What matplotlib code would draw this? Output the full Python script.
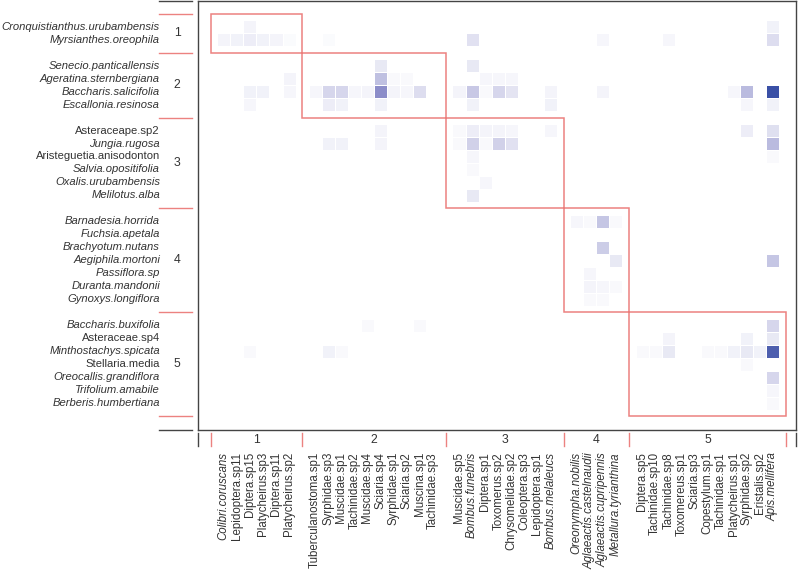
import numpy as np
import matplotlib
matplotlib.use("Agg")
import matplotlib.pyplot as plt
from matplotlib.colors import LinearSegmentedColormap
from matplotlib.patches import Rectangle

# ---------------- data ----------------
plants = [
    "Cronquistianthus.urubambensis", "Myrsianthes.oreophila",
    "Senecio.panticallensis", "Ageratina.sternbergiana", "Baccharis.salicifolia", "Escallonia.resinosa",
    "Asteraceape.sp2", "Jungia.rugosa", "Aristeguetia.anisodonton", "Salvia.opositifolia",
    "Oxalis.urubambensis", "Melilotus.alba",
    "Barnadesia.horrida", "Fuchsia.apetala", "Brachyotum.nutans", "Aegiphila.mortoni",
    "Passiflora.sp", "Duranta.mandonii", "Gynoxys.longiflora",
    "Baccharis.buxifolia", "Asteraceae.sp4", "Minthostachys.spicata", "Stellaria.media",
    "Oreocallis.grandiflora", "Trifolium.amabile", "Berberis.humbertiana",
]
plant_module_sizes = [2, 4, 6, 7, 7]
plant_upright = {"Asteraceape.sp2", "Aristeguetia.anisodonton", "Asteraceae.sp4", "Stellaria.media"}

pollinators = [
    "Colibri.coruscans", "Lepidoptera.sp11", "Diptera.sp15", "Platycheirus.sp3", "Diptera.sp11", "Platycheirus.sp2",
    "Tuberculanostoma.sp1", "Syrphidae.sp3", "Muscidae.sp1", "Tachinidae.sp2", "Muscidae.sp4", "Sciaria.sp4",
    "Syrphidae.sp1", "Sciaria.sp2", "Muscina.sp1", "Tachinidae.sp3",
    "Muscidae.sp5", "Bombus.funebris", "Diptera.sp1", "Toxomerus.sp2", "Chrysomelidae.sp2", "Coleoptera.sp3",
    "Lepidoptera.sp1", "Bombus.melaleucs",
    "Oreonympha.nobilis", "Aglaeactis.castelnaudii", "Aglaeactis.cupripennis", "Metallura.tyrianthina",
    "Diptera.sp5", "Tachinidae.sp10", "Tachinidae.sp8", "Toxomereus.sp1", "Sciaria.sp3", "Copestylum.sp1",
    "Tachinidae.sp1", "Platycheirus.sp1", "Syrphidae.sp2", "Eristalis.sp2", "Apis.mellifera",
]
poll_module_sizes = [6, 10, 8, 4, 11]
poll_italic = {"Colibri.coruscans", "Bombus.funebris", "Bombus.melaleucs", "Oreonympha.nobilis",
               "Aglaeactis.castelnaudii", "Aglaeactis.cupripennis", "Metallura.tyrianthina", "Apis.mellifera"}

# interaction strength (relative, 0-100)
interactions = [
    ("Cronquistianthus.urubambensis", "Diptera.sp15", 5),
    ("Cronquistianthus.urubambensis", "Apis.mellifera", 6),
    ("Myrsianthes.oreophila", "Colibri.coruscans", 5),
    ("Myrsianthes.oreophila", "Lepidoptera.sp11", 6),
    ("Myrsianthes.oreophila", "Diptera.sp15", 8),
    ("Myrsianthes.oreophila", "Platycheirus.sp3", 6),
    ("Myrsianthes.oreophila", "Diptera.sp11", 5),
    ("Myrsianthes.oreophila", "Platycheirus.sp2", 2),
    ("Myrsianthes.oreophila", "Syrphidae.sp3", 2),
    ("Myrsianthes.oreophila", "Bombus.funebris", 13),
    ("Myrsianthes.oreophila", "Aglaeactis.cupripennis", 4),
    ("Myrsianthes.oreophila", "Tachinidae.sp8", 4),
    ("Myrsianthes.oreophila", "Apis.mellifera", 15),
    ("Senecio.panticallensis", "Sciaria.sp4", 10),
    ("Senecio.panticallensis", "Bombus.funebris", 10),
    ("Ageratina.sternbergiana", "Platycheirus.sp2", 5),
    ("Ageratina.sternbergiana", "Sciaria.sp4", 28),
    ("Ageratina.sternbergiana", "Sciaria.sp2", 3),
    ("Ageratina.sternbergiana", "Syrphidae.sp1", 3),
    ("Ageratina.sternbergiana", "Diptera.sp1", 4),
    ("Ageratina.sternbergiana", "Toxomerus.sp2", 4),
    ("Ageratina.sternbergiana", "Chrysomelidae.sp2", 4),
    ("Baccharis.salicifolia", "Diptera.sp15", 6),
    ("Baccharis.salicifolia", "Platycheirus.sp3", 6),
    ("Baccharis.salicifolia", "Platycheirus.sp2", 4),
    ("Baccharis.salicifolia", "Tuberculanostoma.sp1", 4),
    ("Baccharis.salicifolia", "Syrphidae.sp3", 18),
    ("Baccharis.salicifolia", "Muscidae.sp1", 18),
    ("Baccharis.salicifolia", "Tachinidae.sp2", 4),
    ("Baccharis.salicifolia", "Muscidae.sp4", 5),
    ("Baccharis.salicifolia", "Sciaria.sp4", 50),
    ("Baccharis.salicifolia", "Syrphidae.sp1", 5),
    ("Baccharis.salicifolia", "Sciaria.sp2", 4),
    ("Baccharis.salicifolia", "Muscina.sp1", 15),
    ("Baccharis.salicifolia", "Muscidae.sp5", 5),
    ("Baccharis.salicifolia", "Bombus.funebris", 24),
    ("Baccharis.salicifolia", "Diptera.sp1", 3),
    ("Baccharis.salicifolia", "Toxomerus.sp2", 18),
    ("Baccharis.salicifolia", "Chrysomelidae.sp2", 12),
    ("Baccharis.salicifolia", "Bombus.melaleucs", 5),
    ("Baccharis.salicifolia", "Aglaeactis.cupripennis", 5),
    ("Baccharis.salicifolia", "Platycheirus.sp1", 4),
    ("Baccharis.salicifolia", "Syrphidae.sp2", 30),
    ("Baccharis.salicifolia", "Apis.mellifera", 100),
    ("Escallonia.resinosa", "Diptera.sp15", 4),
    ("Escallonia.resinosa", "Syrphidae.sp3", 8),
    ("Escallonia.resinosa", "Muscidae.sp1", 6),
    ("Escallonia.resinosa", "Sciaria.sp4", 6),
    ("Escallonia.resinosa", "Bombus.funebris", 6),
    ("Escallonia.resinosa", "Bombus.melaleucs", 6),
    ("Escallonia.resinosa", "Syrphidae.sp2", 4),
    ("Escallonia.resinosa", "Apis.mellifera", 6),
    ("Asteraceape.sp2", "Sciaria.sp4", 5),
    ("Asteraceape.sp2", "Muscidae.sp5", 3),
    ("Asteraceape.sp2", "Bombus.funebris", 8),
    ("Asteraceape.sp2", "Diptera.sp1", 5),
    ("Asteraceape.sp2", "Toxomerus.sp2", 5),
    ("Asteraceape.sp2", "Chrysomelidae.sp2", 4),
    ("Asteraceape.sp2", "Bombus.melaleucs", 4),
    ("Asteraceape.sp2", "Syrphidae.sp2", 8),
    ("Asteraceape.sp2", "Apis.mellifera", 14),
    ("Jungia.rugosa", "Syrphidae.sp3", 6),
    ("Jungia.rugosa", "Muscidae.sp1", 6),
    ("Jungia.rugosa", "Sciaria.sp4", 5),
    ("Jungia.rugosa", "Muscidae.sp5", 3),
    ("Jungia.rugosa", "Bombus.funebris", 20),
    ("Jungia.rugosa", "Diptera.sp1", 3),
    ("Jungia.rugosa", "Toxomerus.sp2", 20),
    ("Jungia.rugosa", "Chrysomelidae.sp2", 13),
    ("Jungia.rugosa", "Apis.mellifera", 30),
    ("Aristeguetia.anisodonton", "Bombus.funebris", 4),
    ("Aristeguetia.anisodonton", "Apis.mellifera", 3),
    ("Salvia.opositifolia", "Bombus.funebris", 3),
    ("Oxalis.urubambensis", "Diptera.sp1", 4),
    ("Melilotus.alba", "Bombus.funebris", 10),
    ("Barnadesia.horrida", "Oreonympha.nobilis", 4),
    ("Barnadesia.horrida", "Aglaeactis.castelnaudii", 3),
    ("Barnadesia.horrida", "Aglaeactis.cupripennis", 25),
    ("Barnadesia.horrida", "Metallura.tyrianthina", 3),
    ("Brachyotum.nutans", "Aglaeactis.cupripennis", 22),
    ("Aegiphila.mortoni", "Metallura.tyrianthina", 10),
    ("Aegiphila.mortoni", "Apis.mellifera", 25),
    ("Passiflora.sp", "Aglaeactis.castelnaudii", 4),
    ("Duranta.mandonii", "Aglaeactis.castelnaudii", 5),
    ("Duranta.mandonii", "Aglaeactis.cupripennis", 4),
    ("Duranta.mandonii", "Metallura.tyrianthina", 3),
    ("Gynoxys.longiflora", "Aglaeactis.castelnaudii", 3),
    ("Gynoxys.longiflora", "Aglaeactis.cupripennis", 3),
    ("Baccharis.buxifolia", "Muscidae.sp4", 3),
    ("Baccharis.buxifolia", "Muscina.sp1", 3),
    ("Baccharis.buxifolia", "Apis.mellifera", 18),
    ("Asteraceae.sp4", "Tachinidae.sp8", 5),
    ("Asteraceae.sp4", "Syrphidae.sp2", 6),
    ("Asteraceae.sp4", "Apis.mellifera", 10),
    ("Minthostachys.spicata", "Diptera.sp15", 3),
    ("Minthostachys.spicata", "Syrphidae.sp3", 6),
    ("Minthostachys.spicata", "Muscidae.sp1", 3),
    ("Minthostachys.spicata", "Diptera.sp5", 3),
    ("Minthostachys.spicata", "Tachinidae.sp10", 3),
    ("Minthostachys.spicata", "Tachinidae.sp8", 10),
    ("Minthostachys.spicata", "Copestylum.sp1", 3),
    ("Minthostachys.spicata", "Tachinidae.sp1", 3),
    ("Minthostachys.spicata", "Platycheirus.sp1", 6),
    ("Minthostachys.spicata", "Syrphidae.sp2", 10),
    ("Minthostachys.spicata", "Eristalis.sp2", 6),
    ("Minthostachys.spicata", "Apis.mellifera", 88),
    ("Stellaria.media", "Syrphidae.sp2", 3),
    ("Oreocallis.grandiflora", "Apis.mellifera", 18),
    ("Trifolium.amabile", "Apis.mellifera", 4),
    ("Berberis.humbertiana", "Apis.mellifera", 3),
]

# ---------------- layout helpers ----------------
def module_layout(sizes):
    starts, centers = [], []
    s = 0
    for n in sizes:
        starts.append(s)
        centers.extend([s + 1 + k for k in range(n)])
        s += n + 1
    starts.append(s)
    return starts, centers

row_starts, row_centers = module_layout(plant_module_sizes)
col_starts, col_centers = module_layout(poll_module_sizes)
n_row_units = row_starts[-1]
n_col_units = col_starts[-1]

grid = np.full((n_row_units - 1, n_col_units - 1), np.nan)
p_idx = {p: i for i, p in enumerate(plants)}
q_idx = {q: j for j, q in enumerate(pollinators)}
for p, q, v in interactions:
    grid[row_centers[p_idx[p]] - 1, col_centers[q_idx[q]] - 1] = v
grid = np.ma.masked_invalid(grid)

# ---------------- figure ----------------
plt.rcParams["font.family"] = ["Liberation Sans", "DejaVu Sans"]
fig = plt.figure(figsize=(7.98, 5.71), dpi=100)
ax = fig.add_axes([0.2475, 0.2469, 0.7505, 0.7521])

cmap = LinearSegmentedColormap.from_list(
    "wb", [(0.0, "#FFFFFF"), (0.5, "#8C8DC9"), (1.0, "#3A50A6")])
xe = np.arange(0.5, n_col_units, 1.0)
ye = np.arange(0.5, n_row_units, 1.0)
ax.pcolormesh(xe, ye, grid, cmap=cmap, vmin=0, vmax=100, shading="flat",
              edgecolors="white", linewidth=0.4)

ax.set_xlim(-1, 44.8)
ax.set_ylim(32.05, -1)
ax.set_xticks([])
ax.set_yticks([])
for sp in ax.spines.values():
    sp.set_color("#444444")
    sp.set_linewidth(1.0)

red = "#EA7472"
txtc = "#333333"

# module boxes
for k in range(len(plant_module_sizes)):
    x0, x1 = col_starts[k], col_starts[k + 1]
    y0, y1 = row_starts[k], row_starts[k + 1]
    ax.add_patch(Rectangle((x0, y0), x1 - x0, y1 - y0, fill=False,
                           edgecolor=red, linewidth=1.1, alpha=0.9))

# left margin: boundaries, module numbers, plant labels
for y in row_starts:
    ax.plot([-3.92, -1.45], [y, y], color=red, lw=1.0, clip_on=False, alpha=0.9)
for y in (-1, 32.05):
    ax.plot([-3.92, -1.45], [y, y], color="#444444", lw=1.0, clip_on=False)
for k in range(len(plant_module_sizes)):
    ax.text(-2.55, (row_starts[k] + row_starts[k + 1]) / 2, str(k + 1),
            ha="center", va="center", fontsize=8.8, color=txtc, clip_on=False)
for i, p in enumerate(plants):
    ax.text(-3.87, row_centers[i], p, ha="right", va="center", fontsize=8.15,
            color=txtc, style="normal" if p in plant_upright else "italic",
            clip_on=False)

# bottom margin: boundaries, module numbers, pollinator labels
for x in col_starts:
    ax.plot([x, x], [32.28, 33.3], color=red, lw=1.0, clip_on=False, alpha=0.9)
for x in (-1, 44.8):
    ax.plot([x, x], [32.28, 33.3], color="#444444", lw=1.0, clip_on=False)
for k in range(len(poll_module_sizes)):
    ax.text((col_starts[k] + col_starts[k + 1]) / 2, 32.8, str(k + 1),
            ha="center", va="center", fontsize=8.8, color=txtc, clip_on=False)
for j, q in enumerate(pollinators):
    ax.text(col_centers[j], 33.75, q, ha="center", va="top", rotation=90,
            fontsize=8.3, color=txtc,
            style="italic" if q in poll_italic else "normal", clip_on=False)

fig.savefig("out.png", dpi=100)
